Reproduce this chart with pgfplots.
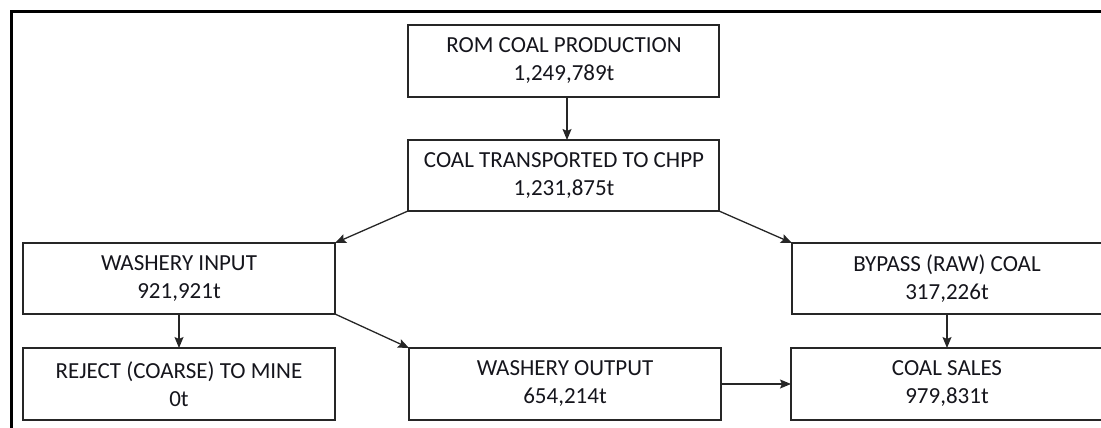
\documentclass[border=0pt]{standalone}
\usepackage{pgfplots}
\pgfplotsset{compat=1.18}
\usepackage{fontspec}
\setmainfont{Carlito}
\usetikzlibrary{arrows.meta}
\definecolor{txt}{HTML}{15151C}
\begin{document}
\begin{tikzpicture}
\begin{axis}[
  scale only axis, width=1101pt, height=428pt,
  xmin=0, xmax=1101, ymin=0, ymax=428, y dir=reverse,
  hide axis, clip=true,
]
% outer frame
\draw[line width=3pt, black] (axis cs:11,440) -- (axis cs:11,12) -- (axis cs:1120,12);
% boxes: x1 y1 x2 y2
\tikzset{bx/.style={line width=1.4pt, draw=black!85}, lb/.style={align=center, text=txt, font=\fontsize{23}{28}\selectfont}, ar/.style={line width=1.3pt, draw=black!85, -{Stealth[length=11pt,width=9pt,inset=2pt]}}}
\draw[bx] (axis cs:408,25) rectangle (axis cs:719,97);
\node[lb] at (axis cs:564,61) {ROM COAL PRODUCTION\\1,249,789t};
\draw[bx] (axis cs:408,140) rectangle (axis cs:719,211);
\node[lb] at (axis cs:564,176) {COAL TRANSPORTED TO CHPP\\1,231,875t};
\draw[bx] (axis cs:23,243) rectangle (axis cs:335,314);
\node[lb] at (axis cs:179,279) {WASHERY INPUT\\921,921t};
\draw[bx] (axis cs:792,243) rectangle (axis cs:1103,314);
\node[lb] at (axis cs:947,279) {BYPASS (RAW) COAL\\317,226t};
\draw[bx] (axis cs:23,348) rectangle (axis cs:335,420);
\node[lb] at (axis cs:179,384) {REJECT (COARSE) TO MINE\\0t};
\draw[bx] (axis cs:409,348) rectangle (axis cs:721,420);
\node[lb] at (axis cs:565,384) {WASHERY OUTPUT\\654,214t};
\draw[bx] (axis cs:791,348) rectangle (axis cs:1102,420);
\node[lb] at (axis cs:947,384) {COAL SALES\\979,831t};
% arrows
\draw[ar] (axis cs:567,97) -- (axis cs:567,140);
\draw[ar] (axis cs:408,211) -- (axis cs:335,243);
\draw[ar] (axis cs:719,211) -- (axis cs:792,243);
\draw[ar] (axis cs:179,314) -- (axis cs:179,348);
\draw[ar] (axis cs:947,314) -- (axis cs:947,348);
\draw[ar] (axis cs:335,314) -- (axis cs:409,348);
\draw[ar] (axis cs:721,384) -- (axis cs:791,384);
\end{axis}
\pgfresetboundingbox
\useasboundingbox (current axis.south west) rectangle (current axis.north east);
\end{tikzpicture}
\end{document}
